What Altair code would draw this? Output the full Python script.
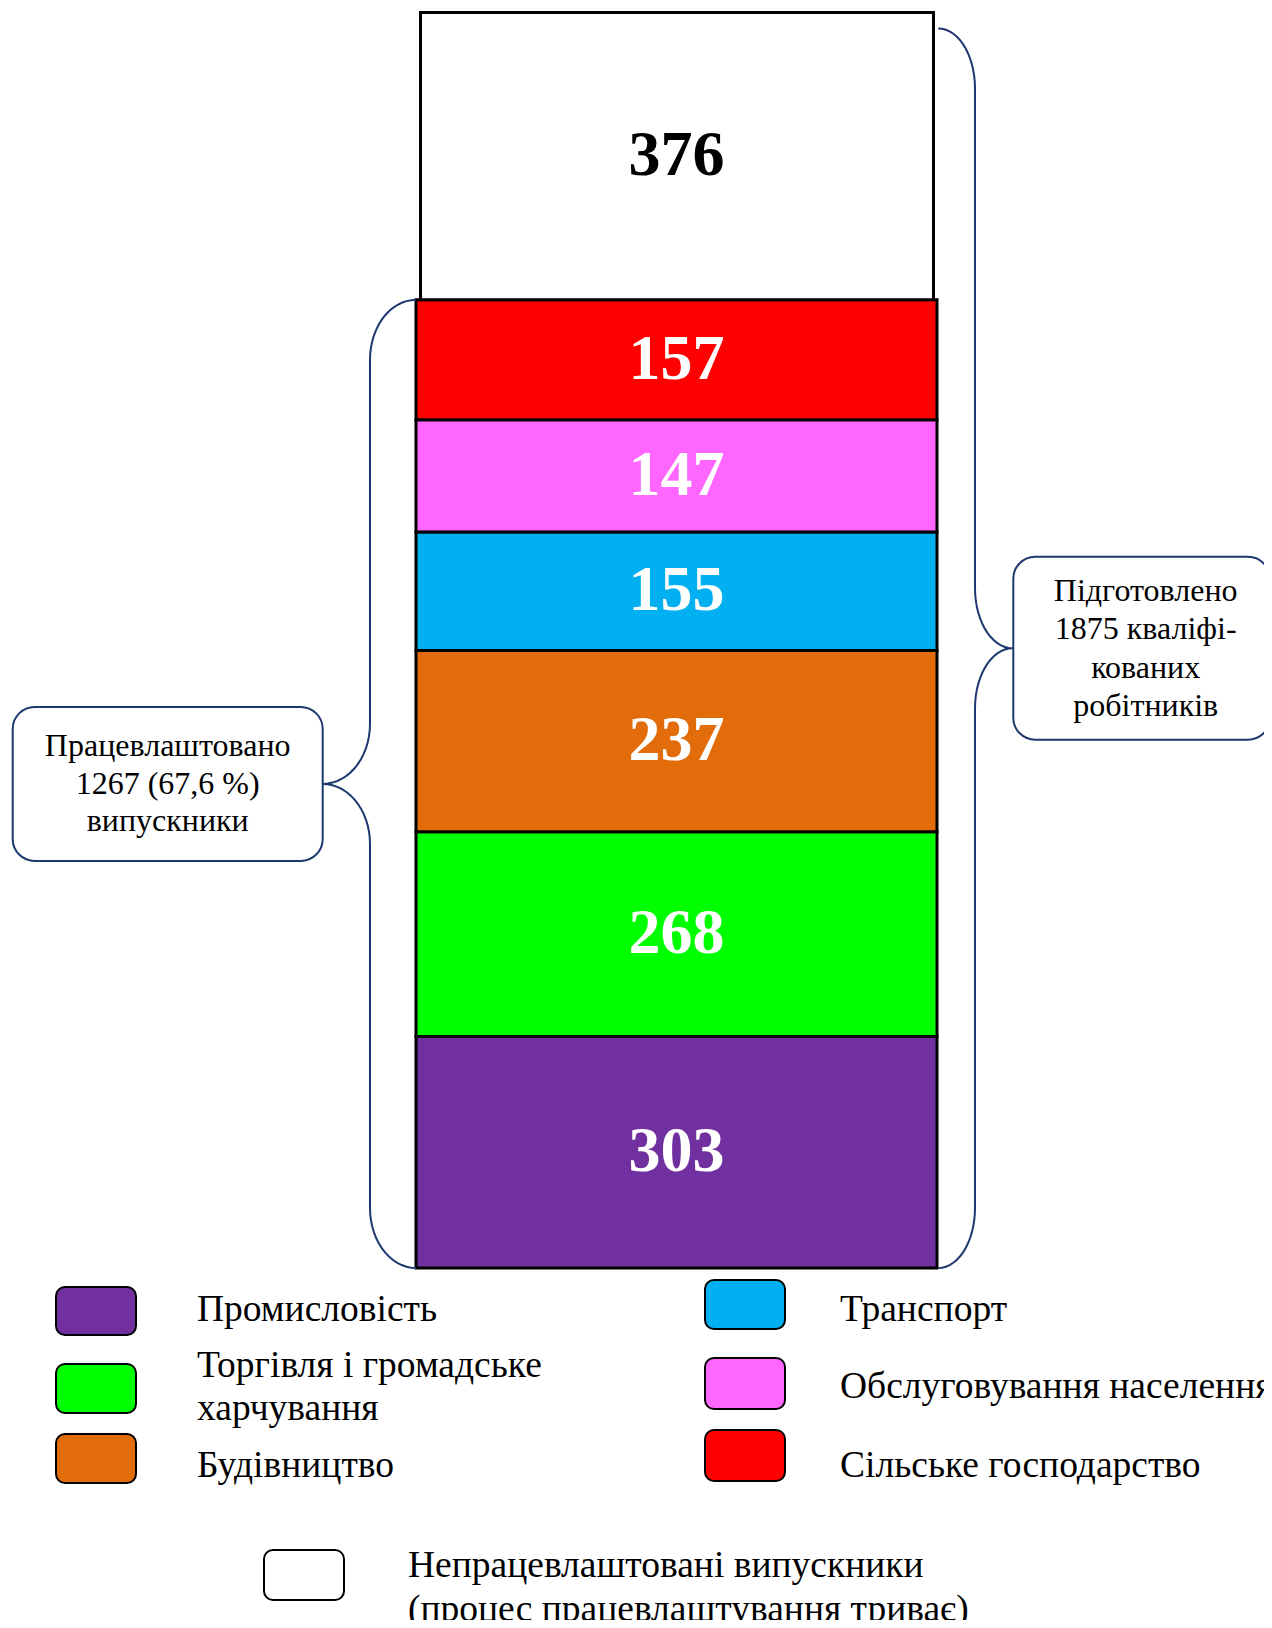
import altair as alt
import pandas as pd
import numpy as np

# ---------------- data ----------------
categories = [
    "Промисловість",
    "Торгівля і громадське харчування",
    "Будівництво",
    "Транспорт",
    "Обслуговування населення",
    "Сільське господарство",
    "Непрацевлаштовані випускники",
]
values = [303, 268, 237, 155, 147, 157, 376]
colors = ["#7030A0", "#00FF00", "#E36C0A", "#00B0F0", "#FF66FF", "#FF0000", "#FFFFFF"]
legend_labels = [
    "Промисловість",
    "Торгівля і громадське\nхарчування",
    "Будівництво",
    "Транспорт",
    "Обслуговування населення",
    "Сільське господарство",
    "Непрацевлаштовані випускники\n(процес працевлаштування триває)",
]
callout_left = ["Працевлаштовано", "1267 (67,6 %)", "випускники"]
callout_right = ["Підготовлено", "1875 кваліфі-", "кованих", "робітників"]

# ---------------- layout / style ----------------
W, H = 1256, 1612
FONT = "Liberation Serif"
NAVY = "#1F3870"
BAR_TOP_PX, BAR_BOT_PX = 4.5, 1260.0
n = len(categories)
employed = sum(values[: n - 1])
shown_total = sum(values)
upp = shown_total / (BAR_BOT_PX - BAR_TOP_PX)          # data units per pixel
y_lo = -(H - BAR_BOT_PX) * upp
y_hi = shown_total + BAR_TOP_PX * upp
yscale = alt.Scale(domain=[y_lo, y_hi], nice=False, zero=False)
cscale = alt.Scale(domain=categories, range=colors)

df = pd.DataFrame({"category": categories, "value": values, "order": list(range(n))})

base = (
    alt.Chart(df)
    .transform_window(top="sum(value)", sort=[alt.SortField("order", order="ascending")], frame=[None, 0])
    .transform_calculate(bottom="datum.top - datum.value", mid="datum.top - datum.value / 2")
)

colored = base.transform_filter(f"datum.order < {n - 1}").mark_rect(
    stroke="black", strokeWidth=3
).encode(
    x=alt.value(408), x2=alt.value(929),
    y=alt.Y("top:Q", scale=yscale, axis=None), y2="bottom:Q",
    color=alt.Color("category:N", scale=cscale, legend=None),
)
white = base.transform_filter(f"datum.order == {n - 1}").mark_rect(
    stroke="black", strokeWidth=3
).encode(
    x=alt.value(412.5), x2=alt.value(925.5),
    y=alt.Y("top:Q", scale=yscale, axis=None), y2="bottom:Q",
    color=alt.Color("category:N", scale=cscale, legend=None),
)
lab_white = base.transform_filter(f"datum.order < {n - 1}").mark_text(
    font=FONT, fontWeight="bold", fontSize=64, color="white", baseline="middle", align="center"
).encode(x=alt.value(668.5), y=alt.Y("mid:Q", scale=yscale, axis=None), text="value:Q")
lab_black = base.transform_filter(f"datum.order == {n - 1}").mark_text(
    font=FONT, fontWeight="bold", fontSize=64, color="black", baseline="middle", align="center"
).encode(x=alt.value(668.5), y=alt.Y("mid:Q", scale=yscale, axis=None), text="value:Q")


# ---------------- braces (decoration) ----------------
def brace(side, y_bot, y_top, x_edge, x_vert, x_tip, r):
    mid = (y_bot + y_top) / 2
    t = np.linspace(0, np.pi / 2, 16)
    xs, ys = [], []
    xs += list(x_edge - (x_edge - x_vert) * np.sin(t)); ys += list(y_top - r + r * np.cos(t))
    xs += list(x_tip + (x_vert - x_tip) * np.cos(t)); ys += list(mid + r - r * np.sin(t))
    xs += list(x_tip + (x_vert - x_tip) * np.sin(t)); ys += list(mid - r + r * np.cos(t))
    xs += list(x_edge - (x_edge - x_vert) * np.cos(t)); ys += list(y_bot + r - r * np.sin(t))
    return pd.DataFrame({"side": side, "bx": xs, "by": ys, "i": list(range(len(xs)))})


r_data = 60 * upp
brace_df = pd.concat([
    brace("L", 0, employed, 408, 362, 314.7, r_data),
    brace("R", 0, shown_total - 16 * upp, 930.3, 967, 1004.7, r_data),
])
braces = alt.Chart(brace_df).mark_line(color=NAVY, strokeWidth=2).encode(
    x=alt.X("bx:Q", scale=alt.Scale(domain=[0, W], nice=False, zero=False), axis=None),
    y=alt.Y("by:Q", scale=yscale, axis=None),
    detail="side:N",
    order=alt.Order("i:Q"),
)

one = pd.DataFrame({"k": [0]})
mid_l = employed / 2
mid_r = (shown_total - 16 * upp) / 2
LH_L, LH_R = 37.5, 38.5
box_l = alt.Chart(one).mark_rect(cornerRadius=22, fill="white", stroke=NAVY, strokeWidth=2).encode(
    x=alt.value(4.7), x2=alt.value(314.7),
    y=alt.datum(mid_l + 77 * upp), y2=alt.datum(mid_l - 77 * upp),
)
box_r = alt.Chart(one).mark_rect(cornerRadius=22, fill="white", stroke=NAVY, strokeWidth=2).encode(
    x=alt.value(1005.3), x2=alt.value(1262),
    y=alt.datum(mid_r + 91.5 * upp), y2=alt.datum(mid_r - 91.5 * upp),
)
txt_l = alt.Chart(one).mark_text(
    text=callout_left, font=FONT, fontSize=32, lineHeight=LH_L, align="center", baseline="middle",
    color="black", dy=-(len(callout_left) - 1) / 2 * LH_L,
).encode(x=alt.value(159.7), y=alt.datum(mid_l))
txt_r = alt.Chart(one).mark_text(
    text=callout_right, font=FONT, fontSize=32, lineHeight=LH_R, align="center", baseline="middle",
    color="black", dy=-(len(callout_right) - 1) / 2 * LH_R,
).encode(x=alt.value(1137.7), y=alt.datum(mid_r))

# ---------------- legend ----------------
# swatch x1, y1, x2, y2, text x, first-line text y (plot pixels)
legend_layout = [
    (48, 1279, 128, 1327, 189, 1302),
    (48, 1356, 128, 1405, 189, 1357.5),
    (48, 1426, 128, 1475, 189, 1458),
    (697, 1272, 777, 1321, 832, 1302),
    (697, 1350, 777, 1401, 832, 1379),
    (697, 1422, 777, 1473, 832, 1458),
    (256, 1542, 336, 1592, 400, 1558),
]
legend_layers = []
for i, c in enumerate(categories):
    x1, y1, x2, y2, tx, ty = legend_layout[i]
    sw = alt.Chart(df).transform_filter(alt.FieldEqualPredicate(field="category", equal=c)).mark_rect(
        cornerRadius=9, stroke="black", strokeWidth=2
    ).encode(
        x=alt.value(x1), x2=alt.value(x2), y=alt.value(y1), y2=alt.value(y2),
        color=alt.Color("category:N", scale=cscale, legend=None),
    )
    tt = alt.Chart(df).transform_filter(alt.FieldEqualPredicate(field="category", equal=c)).mark_text(
        text=legend_labels[i].split("\n"), font=FONT, fontSize=37.5, lineHeight=43.5,
        align="left", baseline="middle", color="black",
    ).encode(x=alt.value(tx), y=alt.value(ty))
    legend_layers += [sw, tt]

chart = alt.layer(
    colored, white, lab_white, lab_black, braces, box_l, box_r, txt_l, txt_r, *legend_layers
).properties(
    width=W, height=H, padding=0,
    autosize=alt.AutoSizeParams(type="none"),
    background="white",
).configure_view(stroke=None)

chart.save("out.html", embed_options={"renderer": "svg", "actions": False})
